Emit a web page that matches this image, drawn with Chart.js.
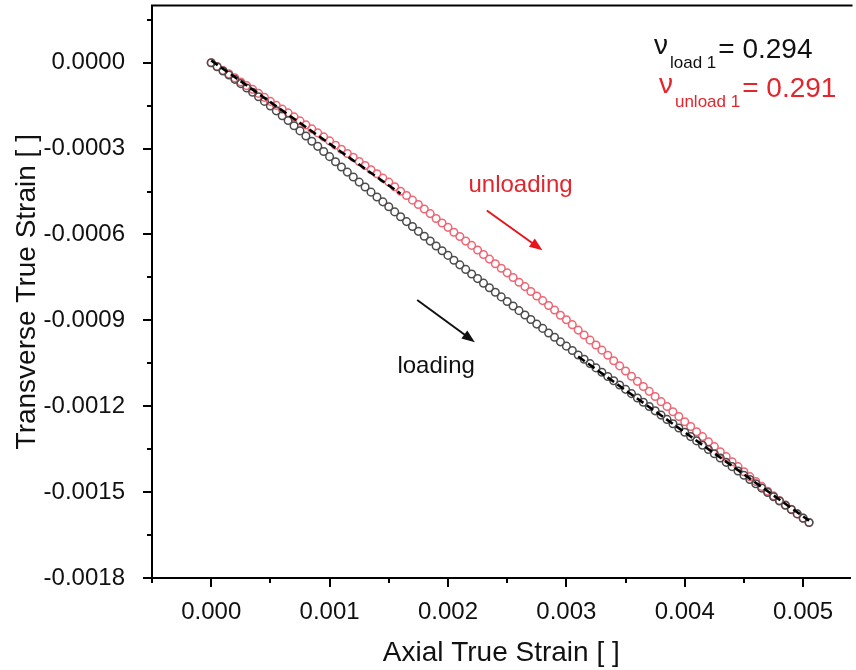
<!DOCTYPE html>
<html>
<head>
<meta charset="utf-8">
<script src="https://cdn.jsdelivr.net/npm/chart.js@4.4.1/dist/chart.umd.min.js"></script>
<style>
  html, body { margin: 0; padding: 0; background: #fff; overflow: hidden; }
  #wrap { width: 856px; height: 670px; position: relative; }
</style>
</head>
<body>
<div id="wrap"><canvas id="chart" width="856" height="670"></canvas></div>
<script>
// Axial strain grid shared by the loading and unloading records
const axialStrain = [
  0, 0.00005, 0.0001, 0.00015, 0.0002, 0.00025, 0.0003, 0.00035, 0.0004, 0.00045,
  0.0005, 0.00055, 0.0006, 0.00065, 0.0007, 0.00075, 0.0008, 0.00085, 0.0009, 0.00095,
  0.001, 0.00105, 0.0011, 0.00115, 0.0012, 0.00125, 0.0013, 0.00135, 0.0014, 0.00145,
  0.0015, 0.00155, 0.0016, 0.00165, 0.0017, 0.00175, 0.0018, 0.00185, 0.0019, 0.00195,
  0.002, 0.00205, 0.0021, 0.00215, 0.0022, 0.00225, 0.0023, 0.00235, 0.0024, 0.00245,
  0.0025, 0.00255, 0.0026, 0.00265, 0.0027, 0.00275, 0.0028, 0.00285, 0.0029, 0.00295,
  0.003, 0.00305, 0.0031, 0.00315, 0.0032, 0.00325, 0.0033, 0.00335, 0.0034, 0.00345,
  0.0035, 0.00355, 0.0036, 0.00365, 0.0037, 0.00375, 0.0038, 0.00385, 0.0039, 0.00395,
  0.004, 0.00405, 0.0041, 0.00415, 0.0042, 0.00425, 0.0043, 0.00435, 0.0044, 0.00445,
  0.0045, 0.00455, 0.0046, 0.00465, 0.0047, 0.00475, 0.0048, 0.00485, 0.0049, 0.00495,
  0.005, 0.00505
];

// Transverse strain while loading
const loadTransverse = [
  0, -0.000014, -0.000029, -0.000043, -0.000058, -0.000073, -0.000088, -0.000103, -0.000119, -0.000135,
  -0.000151, -0.000168, -0.000185, -0.000202, -0.000220, -0.000238, -0.000256, -0.000274, -0.000292, -0.000310,
  -0.000328, -0.000346, -0.000364, -0.000382, -0.000399, -0.000417, -0.000434, -0.000452, -0.000469, -0.000486,
  -0.000503, -0.000521, -0.000538, -0.000555, -0.000572, -0.000589, -0.000606, -0.000623, -0.000640, -0.000657,
  -0.000673, -0.000690, -0.000706, -0.000722, -0.000738, -0.000754, -0.000770, -0.000786, -0.000802, -0.000818,
  -0.000834, -0.000850, -0.000866, -0.000881, -0.000897, -0.000913, -0.000928, -0.000944, -0.000959, -0.000975,
  -0.000990, -0.001005, -0.001021, -0.001036, -0.001051, -0.001066, -0.001081, -0.001096, -0.001111, -0.001126,
  -0.001141, -0.001156, -0.001171, -0.001186, -0.001201, -0.001216, -0.001231, -0.001246, -0.001261, -0.001276,
  -0.001291, -0.001306, -0.001321, -0.001336, -0.001351, -0.001366, -0.001381, -0.001396, -0.001411, -0.001426,
  -0.001441, -0.001456, -0.001471, -0.001486, -0.001501, -0.001516, -0.001531, -0.001546, -0.001561, -0.001576,
  -0.001591, -0.001606
];

// Transverse strain while unloading (listed on the same axial grid)
const unloadTransverse = [
  0, -0.000013, -0.000027, -0.000039, -0.000053, -0.000067, -0.000080, -0.000093, -0.000107, -0.000121,
  -0.000135, -0.000149, -0.000162, -0.000175, -0.000189, -0.000203, -0.000217, -0.000231, -0.000245, -0.000259,
  -0.000273, -0.000288, -0.000302, -0.000317, -0.000330, -0.000345, -0.000359, -0.000374, -0.000388, -0.000403,
  -0.000417, -0.000433, -0.000449, -0.000464, -0.000480, -0.000495, -0.000511, -0.000527, -0.000544, -0.000560,
  -0.000575, -0.000592, -0.000607, -0.000623, -0.000638, -0.000654, -0.000670, -0.000686, -0.000702, -0.000718,
  -0.000734, -0.000750, -0.000767, -0.000782, -0.000799, -0.000815, -0.000831, -0.000848, -0.000864, -0.000882,
  -0.000898, -0.000915, -0.000934, -0.000951, -0.000969, -0.000986, -0.001004, -0.001022, -0.001041, -0.001059,
  -0.001077, -0.001095, -0.001113, -0.001131, -0.001148, -0.001166, -0.001184, -0.001201, -0.001219, -0.001236,
  -0.001254, -0.001271, -0.001289, -0.001306, -0.001324, -0.001341, -0.001359, -0.001376, -0.001394, -0.001411,
  -0.001429, -0.001446, -0.001463, -0.001480, -0.001497, -0.001513, -0.001529, -0.001545, -0.001560, -0.001576,
  -0.001591, -0.001606
];

// Poisson's ratios from the linear fits, and the strain ranges each fit covers
const nuLoad = 0.294;
const nuUnload = 0.291;
const loadFitRange = [0.0031, 0.00505];
const loadFitIntercept = -0.000115;
const unloadFitRange = [0, 0.0016];
const unloadFitIntercept = 0.000008;

// Axis ticks
const xMajorTicks = [0, 0.001, 0.002, 0.003, 0.004, 0.005];
const xMinorTicks = [-0.0005, 0.0005, 0.0015, 0.0025, 0.0035, 0.0045];
const yMajorTicks = [-0.0018, -0.0015, -0.0012, -0.0009, -0.0006, -0.0003, 0];
const yMinorTicks = [-0.00165, -0.00135, -0.00105, -0.00075, -0.00045, -0.00015, 0.00015];

const FONT = '"Liberation Sans", Arial, Helvetica, sans-serif';
const RED_TEXT = '#e3262e';

const toPoints = (xs, ys) => xs.map((x, i) => ({ x: x, y: ys[i] }));
const fitLine = (range, nu, b) => range.map(x => ({ x: x, y: -nu * x + b }));

// Frame, tick marks and in-plot annotations
const decorations = {
  id: 'decorations',
  afterDatasetsDraw(chart) {
    const ctx = chart.ctx;
    const xs = chart.scales.x, ys = chart.scales.y;
    const area = chart.chartArea;
    const px = v => xs.getPixelForValue(v);
    const py = v => ys.getPixelForValue(v);

    ctx.save();
    ctx.strokeStyle = '#000';
    ctx.lineWidth = 2;
    ctx.lineCap = 'butt';
    // top edge of the frame
    ctx.beginPath();
    ctx.moveTo(area.left - 1, area.top);
    ctx.lineTo(area.right + 2, area.top);
    ctx.stroke();

    ctx.beginPath();
    xMajorTicks.forEach(v => { const x = Math.round(px(v)); ctx.moveTo(x, area.bottom); ctx.lineTo(x, area.bottom + 9); });
    xMinorTicks.forEach(v => { const x = Math.round(px(v)); ctx.moveTo(x, area.bottom); ctx.lineTo(x, area.bottom + 5); });
    yMajorTicks.forEach(v => { const y = Math.round(py(v)); ctx.moveTo(area.left, y); ctx.lineTo(area.left - 9, y); });
    yMinorTicks.forEach(v => { const y = Math.round(py(v)); ctx.moveTo(area.left, y); ctx.lineTo(area.left - 5, y); });
    ctx.stroke();

    // direction arrows
    const arrow = (x0, y0, x1, y1, color) => {
      const a = px(x0), b = py(y0), c = px(x1), d = py(y1);
      const ang = Math.atan2(d - b, c - a);
      const len = 13, hw = 5;
      ctx.strokeStyle = color;
      ctx.fillStyle = color;
      ctx.lineWidth = 2;
      ctx.beginPath();
      ctx.moveTo(a, b);
      ctx.lineTo(c - Math.cos(ang) * len * 0.8, d - Math.sin(ang) * len * 0.8);
      ctx.stroke();
      ctx.beginPath();
      ctx.moveTo(c, d);
      ctx.lineTo(c - Math.cos(ang) * len - Math.sin(ang) * hw, d - Math.sin(ang) * len + Math.cos(ang) * hw);
      ctx.lineTo(c - Math.cos(ang) * len + Math.sin(ang) * hw, d - Math.sin(ang) * len - Math.cos(ang) * hw);
      ctx.closePath();
      ctx.fill();
    };
    arrow(0.00174, -0.000829, 0.002227, -0.000976, '#111');
    arrow(0.002328, -0.000516, 0.002798, -0.000655, '#e8141c');

    // curve labels
    ctx.textBaseline = 'alphabetic';
    ctx.textAlign = 'center';
    ctx.font = '24px ' + FONT;
    ctx.fillStyle = RED_TEXT;
    ctx.fillText('unloading', px(0.002613), py(-0.000453));
    ctx.fillStyle = '#111';
    ctx.fillText('loading', px(0.0019), py(-0.001084));

    // Poisson's ratio labels: nu, subscript, value
    const nuLabel = (x, y, sub, nu, color) => {
      let cx = px(x);
      const base = py(y);
      ctx.textAlign = 'left';
      ctx.fillStyle = color;
      ctx.font = '28px ' + FONT;
      ctx.fillText('\u03BD', cx, base - 4);
      cx += ctx.measureText('\u03BD').width + 2;
      ctx.font = '17px ' + FONT;
      ctx.fillText(sub, cx, base + 10);
      cx += ctx.measureText(sub).width + 2;
      ctx.font = '28px ' + FONT;
      ctx.fillText('= ' + nu.toFixed(3), cx, base);
    };
    nuLabel(0.00374, 0.0000174, 'load 1', nuLoad, '#111');
    nuLabel(0.003782, -0.000118, 'unload 1', nuUnload, RED_TEXT);
    ctx.restore();
  }
};

new Chart(document.getElementById('chart'), {
  type: 'scatter',
  data: {
    datasets: [
      {
        label: 'load fit',
        data: fitLine(loadFitRange, nuLoad, loadFitIntercept),
        showLine: true, pointRadius: 0, borderColor: '#000', borderWidth: 2.6,
        borderDash: [8, 4], fill: false
      },
      {
        label: 'unload fit',
        data: fitLine(unloadFitRange, nuUnload, unloadFitIntercept),
        showLine: true, pointRadius: 0, borderColor: '#000', borderWidth: 2.6,
        borderDash: [8, 4], fill: false
      },
      {
        label: 'loading',
        data: toPoints(axialStrain, loadTransverse),
        showLine: false, pointStyle: 'circle', pointRadius: 3.8, pointBorderWidth: 1.5,
        pointBorderColor: '#4d4d4d', pointBackgroundColor: 'rgba(0,0,0,0)'
      },
      {
        label: 'unloading',
        data: toPoints(axialStrain, unloadTransverse),
        showLine: false, pointStyle: 'circle', pointRadius: 3.8, pointBorderWidth: 1.5,
        pointBorderColor: '#ef6674', pointBackgroundColor: 'rgba(0,0,0,0)'
      }
    ]
  },
  options: {
    responsive: false,
    animation: false,
    devicePixelRatio: 1,
    layout: { padding: { top: 4, right: 2, left: 0, bottom: 0 } },
    plugins: { legend: { display: false }, tooltip: { enabled: false } },
    scales: {
      x: {
        type: 'linear', position: 'bottom', min: -0.0005, max: 0.0054,
        grid: { display: false },
        border: { display: true, color: '#000', width: 2 },
        afterFit: s => { s.height = 92; s.paddingLeft = 0; s.paddingRight = 0; },
        afterBuildTicks: s => { s.ticks = xMajorTicks.map(v => ({ value: v })); },
        ticks: {
          padding: 12, color: '#111', font: { family: FONT, size: 24 },
          callback: v => Number(v).toFixed(3)
        },
        title: {
          display: true, text: 'Axial True Strain [ ]', color: '#111',
          font: { family: FONT, size: 28 }, padding: { top: 0, bottom: 0 }
        }
      },
      y: {
        type: 'linear', position: 'left', min: -0.0018, max: 0.0002,
        grid: { display: false },
        border: { display: true, color: '#000', width: 2 },
        afterFit: s => { s.width = 152; s.paddingTop = 0; s.paddingBottom = 0; },
        afterBuildTicks: s => { s.ticks = yMajorTicks.map(v => ({ value: v })); },
        ticks: {
          padding: 19, color: '#111', font: { family: FONT, size: 24 },
          callback: v => Number(v).toFixed(4)
        },
        title: {
          display: true, text: 'Transverse True Strain [ ]', color: '#111',
          font: { family: FONT, size: 28 }, padding: { top: 10, bottom: 0 }
        }
      }
    }
  },
  plugins: [decorations]
});
</script>
</body>
</html>
